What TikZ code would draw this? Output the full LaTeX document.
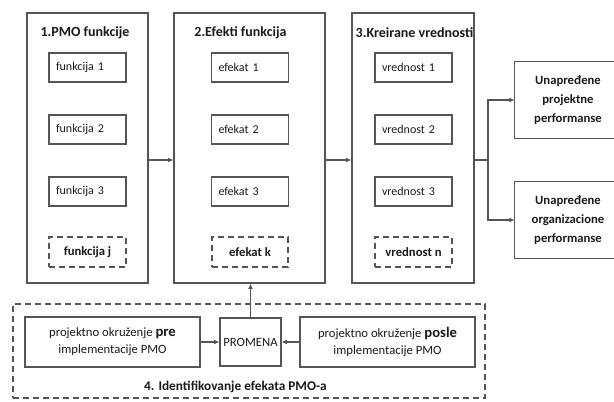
\documentclass[tikz,border=0pt]{standalone}
\usepackage{fontspec}
\setmainfont{Carlito}
\usetikzlibrary{arrows.meta}
\definecolor{linegray}{HTML}{555555}
\definecolor{txt}{HTML}{1A1A1A}
\begin{document}
\begin{tikzpicture}[x=0.75pt,y=-0.75pt,
  every node/.style={text=txt},
  frame/.style={draw=linegray, line width=0.8pt, inner sep=0pt},
  dframe/.style={frame, line width=1pt, dash pattern=on 4.5pt off 3pt},
  sz/.style 2 args={minimum width=#1*0.75pt, minimum height=#2*0.75pt},
  coltitle/.style={inner sep=0pt, font=\bfseries\fontsize{10.5}{12}\selectfont},
  item/.style={frame, inner xsep=5.25pt, text width=47.25pt, align=left, font=\fontsize{9}{11}\selectfont},
  ditem/.style={dframe, font=\bfseries\fontsize{9.5}{11}\selectfont},
  outtext/.style={inner sep=0pt, align=center, font=\bfseries\fontsize{9.5}{14.25}\selectfont},
  envtext/.style={frame, align=center, font=\fontsize{9.5}{12.75}\selectfont},
  arr/.style={draw=linegray, line width=0.8pt, -{Latex[length=4pt,width=3.6pt]}},
  conn/.style={draw=linegray, line width=0.8pt}
]
\useasboundingbox (0,0) rectangle (614,401);

% columns
\node[frame, sz={121}{270}] (c1) at (87.5,148) {};
\node[frame, sz={151}{270}] (c2) at (249.5,148) {};
\node[frame, sz={122}{270}] (c3) at (413,148) {};

\node[coltitle] (t1) at (85,33) {1.PMO funkcije};
\node[coltitle] (t2) at (240.5,33) {2.Efekti funkcija};
\node[coltitle] (t3) at (414.5,32.5) {3.Kreirane vrednosti};

% column 1 items
\node[item, sz={77}{29}] (f1) at (87.5,67.5) {funkcija 1};
\node[item, sz={77}{29}] (f2) at (87.5,129.5) {funkcija 2};
\node[item, sz={77}{29}] (f3) at (87.5,191.5) {funkcija 3};
\node[ditem, sz={77}{30}] (fj) at (87.5,252) {funkcija j};

% column 2 items
\node[item, sz={76}{29}] (e1) at (250,67.5) {efekat 1};
\node[item, sz={76}{29}] (e2) at (250,129.5) {efekat 2};
\node[item, sz={76}{29}] (e3) at (250,191.5) {efekat 3};
\node[ditem, sz={76}{30}] (ek) at (250,252) {efekat k};

% column 3 items
\node[item, sz={77}{29}] (v1) at (413.5,67.5) {vrednost 1};
\node[item, sz={77}{29}] (v2) at (413.5,129.5) {vrednost 2};
\node[item, sz={77}{29}] (v3) at (413.5,191.5) {vrednost 3};
\node[ditem, sz={77}{30}] (vn) at (413.5,252) {vrednost n};

% outcome boxes (cut by the right edge)
\coordinate (rim) at (614,0);
\node[outtext, sz={106}{76}] (oA) at (568,100) {Unapređene\\projektne\\performanse};
\node[outtext, sz={106}{76}] (oB) at (568,220) {Unapređene\\organizacione\\performanse};
\draw[conn] (oA.north -| rim) -- (oA.north west) -- (oA.south west) -- (oA.south -| rim);
\draw[conn] (oB.north -| rim) -- (oB.north west) -- (oB.south west) -- (oB.south -| rim);

% arrows between columns
\draw[arr] ([yshift=-9pt]c1.east) -- ([yshift=-9pt]c2.west);
\draw[arr] ([yshift=-9pt]c2.east) -- ([yshift=-9pt]c3.west);
\coordinate (fk) at (488,160);
\draw[conn] ([yshift=-9pt]c3.east) -- (fk);
\draw[arr] (fk) |- (oA.west);
\draw[arr] (fk) |- (oB.west);

% bottom section
\node[dframe, sz={472}{94}] (env) at (249,351) {};
\node[envtext, sz={175}{50}] (pre) at (112.5,342)
  {projektno okruženje {\bfseries\fontsize{11}{12}\selectfont pre}\\implementacije PMO};
\node[frame, sz={61}{48}, font=\fontsize{9.5}{11}\selectfont] (prom) at (250.5,342) {PROMENA};
\node[envtext, sz={175}{50}] (post) at (387.5,342)
  {projektno okruženje {\bfseries\fontsize{11}{12}\selectfont posle}\\implementacije PMO};
\node[inner sep=0pt, font=\bfseries\fontsize{10}{12}\selectfont] (l4) at (235.5,387) {4. Identifikovanje efekata PMO-a};

\draw[arr] (pre) -- (prom);
\draw[arr] (post) -- (prom);
\draw[arr] (prom) -- (prom |- c2.south);
\end{tikzpicture}
\end{document}
